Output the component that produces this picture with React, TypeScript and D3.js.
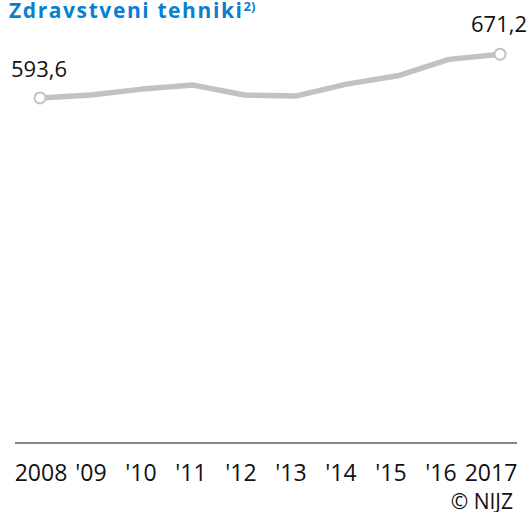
import React from "react";
import * as d3 from "d3";

const years = [2008, 2009, 2010, 2011, 2012, 2013, 2014, 2015, 2016, 2017];
const tickLabels = ["2008", "'09", "'10", "'11", "'12", "'13", "'14", "'15", "'16", "2017"];
const values = [593.6, 598.6, 609.2, 616.3, 598.6, 596.8, 618.1, 632.9, 662.0, 671.2];
const firstLabel = "593,6";
const lastLabel = "671,2";

const W = 531;
const H = 512;
const FONT = "Open Sans, Noto Sans, sans-serif";

export default function App() {
  const x = d3.scalePoint<number>().domain(years).range([40, 500]);
  const xLab = d3.scalePoint<number>().domain(years).range([41, 491]);
  const y = d3.scaleLinear().domain([0, 700]).range([432, 38]);
  const line = d3
    .line<number>()
    .x((_, i) => x(years[i]) as number)
    .y((d) => y(d));
  const n = values.length;
  return (
    <svg
      width={W}
      height={H}
      style={{ position: "absolute", left: 0, top: 0, background: "#fff" }}
      fontFamily={FONT}
    >
      <text x={9} y={17.5} fontSize={21} fontWeight={700} fill="#0a7fcf" letterSpacing={1.6}>
        Zdravstveni tehniki
        <tspan fontSize={13} dy={-7} letterSpacing={0}>2)</tspan>
      </text>
      <line x1={15} x2={517} y1={443} y2={443} stroke="#888" strokeWidth={2} />
      <path d={line(values) || ""} fill="none" stroke="#c2c2c2" strokeWidth={5.5} strokeLinejoin="round" />
      {[0, n - 1].map((i) => (
        <circle
          key={i}
          cx={x(years[i]) as number}
          cy={y(values[i])}
          r={5.5}
          fill="#fff"
          stroke="#c2c2c2"
          strokeWidth={2}
        />
      ))}
      <text x={11} y={77} fontSize={22} fill="#111">
        {firstLabel}
      </text>
      <text x={527} y={32} fontSize={22} fill="#111" textAnchor="end">
        {lastLabel}
      </text>
      {years.map((yr, i) => (
        <text
          key={yr}
          x={xLab(yr) as number}
          y={481}
          fontSize={23}
          fill="#111"
          textAnchor="middle"
        >
          {tickLabels[i]}
        </text>
      ))}
      <text x={513} y={509} fontSize={21} fill="#111" textAnchor="end">
        © NIJZ
      </text>
    </svg>
  );
}
